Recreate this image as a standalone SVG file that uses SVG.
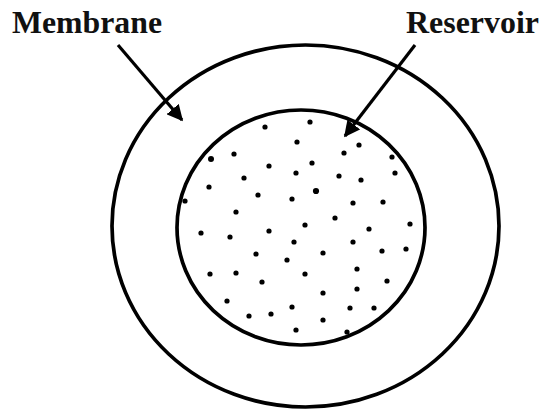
<svg xmlns="http://www.w3.org/2000/svg" width="542" height="410" viewBox="0 0 542 410">
<defs>
<style>
.ring{fill:none;stroke:#000;stroke-width:3.7}
.lbl{font-family:"Liberation Serif","Times New Roman",serif;font-weight:bold;font-size:31px;fill:#111}
.arr{stroke:#000;stroke-width:3.2;fill:none}
.dot{fill:#000}
</style>
<marker id="ah" viewBox="0 0 10 10" refX="9" refY="5" markerWidth="5" markerHeight="5" markerUnits="strokeWidth" orient="auto">
<path d="M0,0 L10,5 L0,10 z" fill="#000"/>
</marker>
</defs>
<rect width="542" height="410" fill="#fff"/>
<g id="membrane">
<ellipse class="ring" cx="305.5" cy="226" rx="193.5" ry="181"/>
</g>
<g id="reservoir">
<ellipse class="ring" cx="301" cy="227.5" rx="124" ry="117.5"/>
<g class="dot">
<circle cx="265" cy="127" r="2.6"/><circle cx="310" cy="122" r="2.6"/><circle cx="297" cy="142" r="2.6"/>
<circle cx="211" cy="159" r="3"/><circle cx="234" cy="154" r="2.6"/><circle cx="269" cy="166" r="2.6"/>
<circle cx="296" cy="173" r="2.6"/><circle cx="244" cy="178" r="2.6"/><circle cx="209" cy="187" r="2.6"/>
<circle cx="258" cy="195" r="2.6"/><circle cx="292" cy="199" r="2.6"/><circle cx="185" cy="201" r="2.6"/>
<circle cx="236" cy="212" r="2.6"/><circle cx="359" cy="145" r="2.6"/><circle cx="344" cy="153" r="2.6"/>
<circle cx="392" cy="157" r="2.6"/><circle cx="312" cy="163" r="2.6"/><circle cx="339" cy="176" r="2.6"/>
<circle cx="361" cy="180" r="2.6"/><circle cx="395" cy="173" r="2.6"/><circle cx="316" cy="191" r="3.1"/>
<circle cx="353" cy="203" r="2.6"/><circle cx="383" cy="202" r="2.6"/><circle cx="335" cy="218" r="2.6"/>
<circle cx="305" cy="225" r="2.6"/><circle cx="369" cy="229" r="2.6"/><circle cx="410" cy="224" r="2.6"/>
<circle cx="269" cy="231" r="2.6"/><circle cx="201" cy="233" r="2.6"/><circle cx="230" cy="237" r="2.6"/>
<circle cx="294" cy="242" r="2.6"/><circle cx="256" cy="254" r="2.6"/><circle cx="287" cy="260" r="2.6"/>
<circle cx="210" cy="274" r="2.6"/><circle cx="236" cy="273" r="2.6"/><circle cx="262" cy="282" r="2.6"/>
<circle cx="227" cy="301" r="2.6"/><circle cx="249" cy="316" r="2.6"/><circle cx="271" cy="314" r="2.6"/>
<circle cx="292" cy="307" r="2.6"/><circle cx="296" cy="330" r="2.6"/><circle cx="353" cy="242" r="2.6"/>
<circle cx="323" cy="253" r="2.6"/><circle cx="382" cy="251" r="2.6"/><circle cx="406" cy="249" r="2.6"/>
<circle cx="305" cy="274" r="2.6"/><circle cx="357" cy="269" r="2.6"/><circle cx="387" cy="281" r="2.6"/>
<circle cx="323" cy="293" r="2.6"/><circle cx="357" cy="289" r="2.6"/><circle cx="350" cy="308" r="2.6"/>
<circle cx="374" cy="308" r="2.6"/><circle cx="323" cy="320" r="2.6"/><circle cx="347" cy="332" r="2.6"/>
</g>
</g>
<g id="labels">
<text class="lbl" x="12" y="33" textLength="150" lengthAdjust="spacingAndGlyphs">Membrane</text>
<text class="lbl" x="406" y="33" textLength="133" lengthAdjust="spacingAndGlyphs">Reservoir</text>
</g>
<g id="connectors">
<line class="arr" x1="118" y1="45" x2="182" y2="120" marker-end="url(#ah)"/>
<line class="arr" x1="415" y1="45" x2="345" y2="136" marker-end="url(#ah)"/>
</g>
</svg>
